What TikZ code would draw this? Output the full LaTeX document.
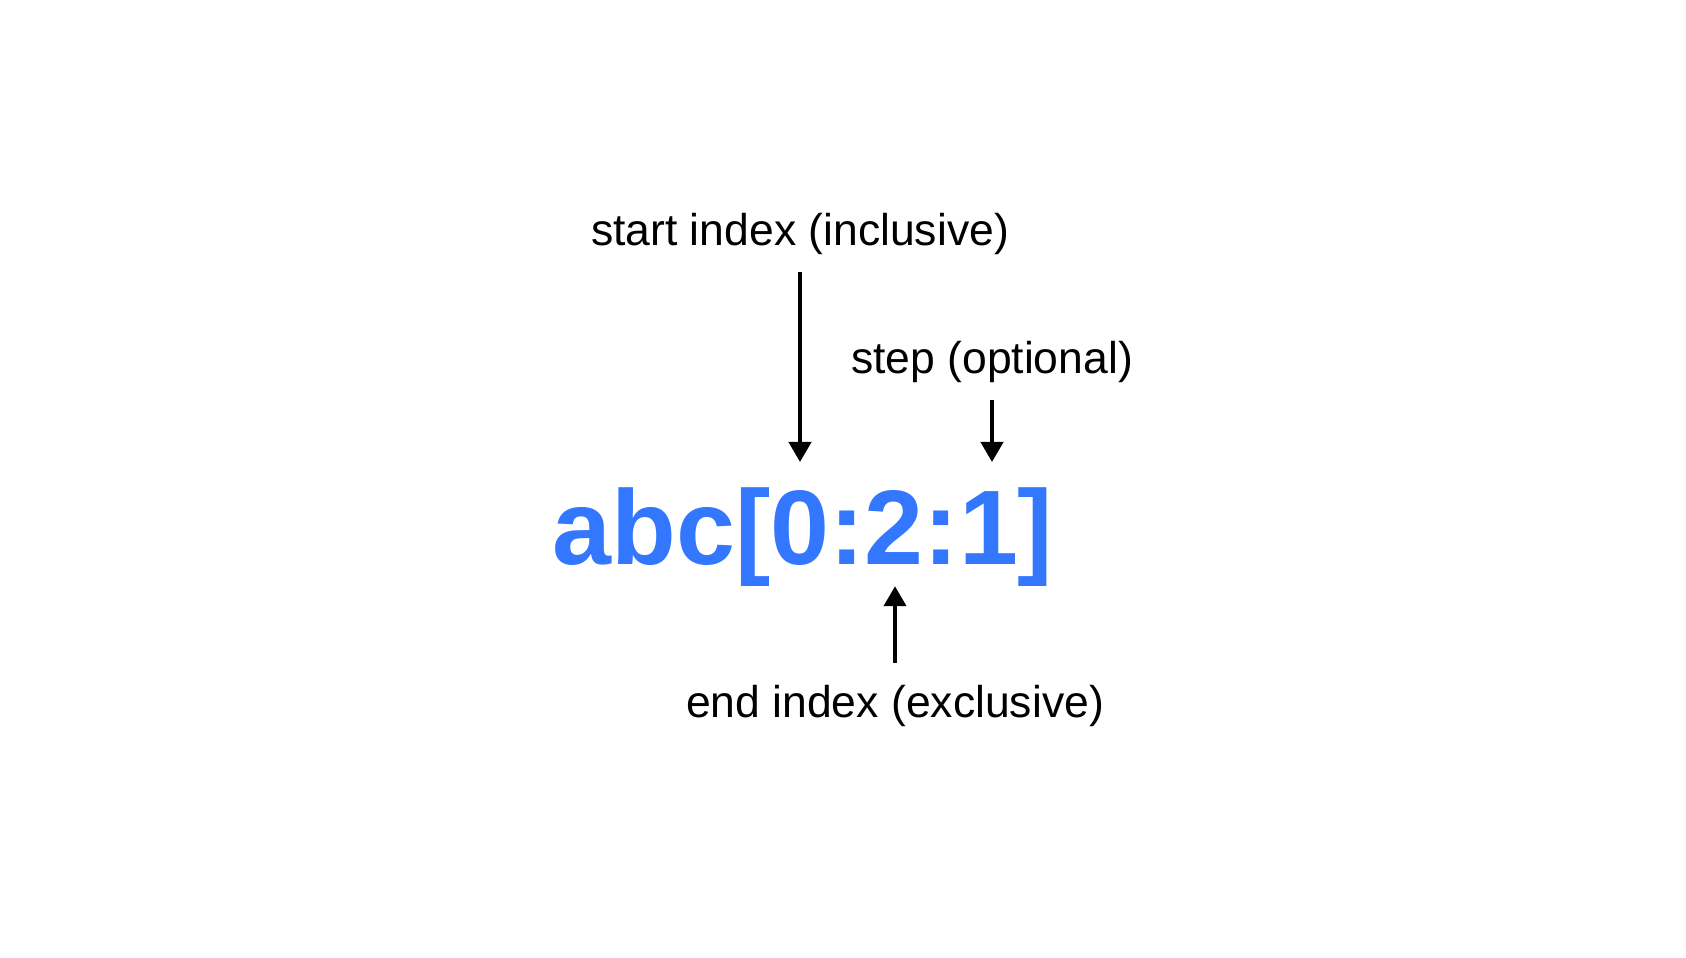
\documentclass[tikz,border=0pt]{standalone}
\usepackage{fontspec}
\setmainfont{Liberation Sans}
\usetikzlibrary{arrows.meta, positioning}

\definecolor{sliceblue}{RGB}{51,119,255}

\begin{document}
\begin{tikzpicture}[x=1pt, y=-1pt,
    note/.style={inner sep=0pt, anchor=base, font=\fontsize{44.5}{50}\selectfont},
    code/.style={inner sep=0pt, anchor=base, text=sliceblue, font=\fontsize{106}{120}\selectfont\bfseries},
    pointer/.style={line width=4pt, -{Triangle[length=20pt, width=22pt]}}]
    \useasboundingbox (0,0) rectangle (1686,958);

    % The slice expression
    \node[code] (slice) at (803,564) {abc[0:2:1]};

    % Labels
    \node[note] (start) at (800,245) {start index (inclusive)};
    \node[note] (stepnote) at (992,373) {step (optional)};
    \node[note] (endnote) at (895,717) {end index (exclusive)};

    % Pointers to the parts
    \draw[pointer, shorten <=18pt, shorten >=25pt] (start.south) -- (start.south |- slice.north);
    \draw[pointer, shorten <=18pt, shorten >=25pt] (stepnote.south) -- (stepnote.south |- slice.north);
    \draw[pointer, shorten <=22pt] (endnote.north) -- (endnote.north |- slice.south);
\end{tikzpicture}
\end{document}
